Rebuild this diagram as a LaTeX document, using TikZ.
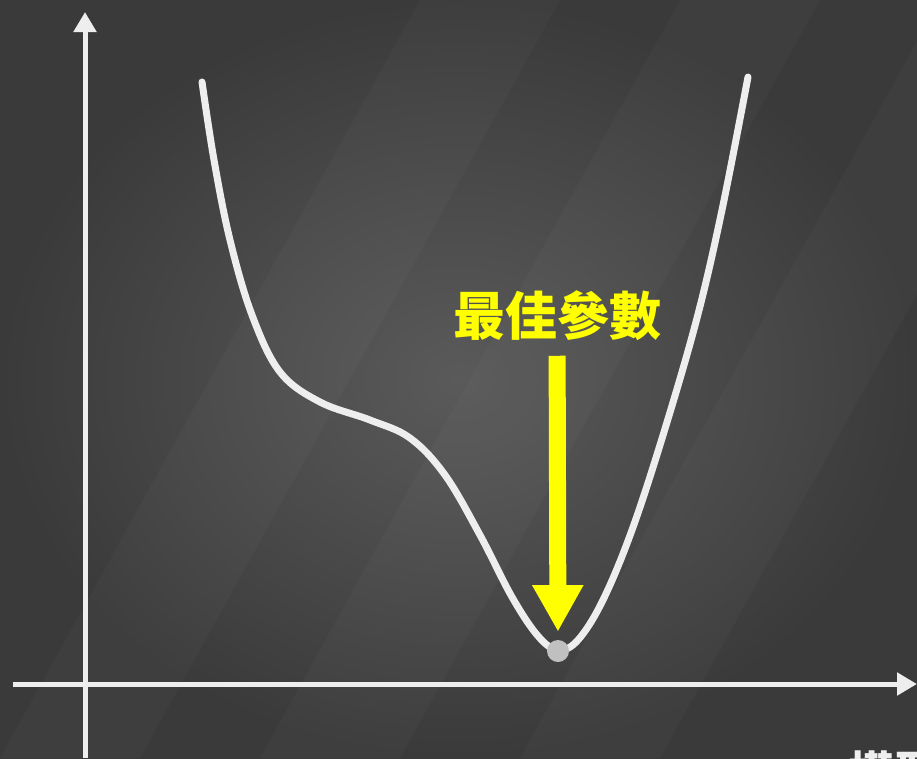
\documentclass[tikz,border=0pt]{standalone}
\usepackage{fontspec}
\newfontfamily\cjk{Noto Sans CJK TC}
\usetikzlibrary{arrows.meta,positioning}
\definecolor{boardlight}{RGB}{90,90,90}
\definecolor{boarddark}{RGB}{58,58,58}
\definecolor{chalk}{RGB}{238,238,238}
\definecolor{hiyellow}{RGB}{255,255,0}
\definecolor{dotgray}{RGB}{192,192,192}

\begin{document}
\begin{tikzpicture}[x=0.75pt,y=-0.75pt,
  axis/.style={draw=chalk, line width=3.75pt, -{Triangle[width=16.5pt,length=15pt]}},
  lossline/.style={draw=chalk, line width=5.25pt, line cap=round},
  streak/.style={fill=white, opacity=0.025}]
  \useasboundingbox (0,0) rectangle (917,758);
  \clip (0,0) rectangle (917,758);
  % chalkboard
  \shade[inner color=boardlight, outer color=boarddark] (0,0) rectangle (917,758);
  \foreach \s in {0,260,520} {
    \fill[streak] (\s,758) -- (\s+140,758) -- (\s+560,0) -- (\s+420,0) -- cycle;
  }
  % axes
  \coordinate (yfoot) at (85,758);
  \coordinate (ytop) at (85,12);
  \coordinate (xstart) at (13,684);
  \coordinate (xend) at (917,684);
  \draw[axis] (yfoot) -- (ytop);
  \draw[axis] (xstart) -- (xend);
  % loss curve
  \draw[lossline] plot[smooth, tension=0.6] coordinates {
    (202,82) (214,160) (230,240) (252,315) (280,372) (320,402)
    (370,420) (410,438) (445,475) (480,535) (512,597) (538,636)
    (558,650) (578,640) (603,600) (632,530) (664,432) (697,318)
    (722,210) (748,77)};
  % minimum
  \node[circle, fill=dotgray, minimum size=16.5pt, inner sep=0pt] (opt) at (558,651) {};
  \node[text=hiyellow, font=\cjk\bfseries\fontsize{39}{39}\selectfont] (lbl) at (557,316) {最佳參數};
  \draw[hiyellow, line width=12.75pt, shorten <=7.5pt, shorten >=6pt,
    -{Triangle[width=36pt,length=35pt]}] (lbl) -- (opt);
  % cut-off caption
  \node[anchor=north west, inner sep=0pt, text=chalk,
    font=\cjk\bfseries\fontsize{34}{34}\selectfont] (cut) at (848,750) {模型};
\end{tikzpicture}
\end{document}
